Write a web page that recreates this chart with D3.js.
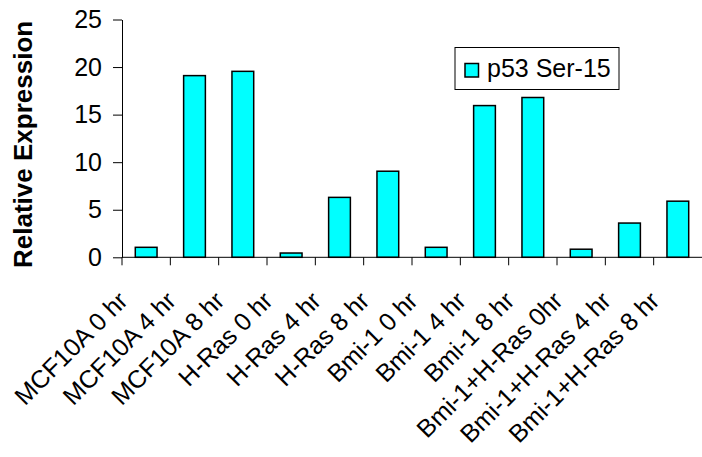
<!DOCTYPE html>
<html><head><meta charset="utf-8">
<script src="https://cdn.jsdelivr.net/npm/d3@7"></script>
<style>body{margin:0;background:#fff}svg{display:block;font-family:"Liberation Sans",Arial,sans-serif}</style>
</head><body><svg id="c" width="702" height="457"></svg>
<script>
const categories = ["MCF10A 0 hr","MCF10A 4 hr","MCF10A 8 hr","H-Ras 0 hr","H-Ras 4 hr","H-Ras 8 hr","Bmi-1 0 hr","Bmi-1 4 hr","Bmi-1 8 hr","Bmi-1+H-Ras 0hr","Bmi-1+H-Ras 4 hr","Bmi-1+H-Ras 8 hr"];
const values = [1.05,19.1,19.55,0.45,6.3,9.05,1.05,15.95,16.8,0.85,3.6,5.9];
const seriesName = "p53 Ser-15";
const yTicks = [0,5,10,15,20,25];

const svg = d3.select("#c");
const mL = 122, mR = 702, mT = 19.5, mB = 257.3;
const x = d3.scaleBand().domain(categories).range([mL,mR]).paddingInner(0.55).paddingOuter(0.275);
const xb = d3.scaleBand().domain(categories).range([mL,mR]);
const y = d3.scaleLinear().domain([0,25]).range([mB,mT]);

// y axis
const ya = svg.append("g").attr("transform",`translate(${mL},0)`)
  .call(d3.axisLeft(y).tickValues(yTicks).tickSize(9).tickPadding(11).tickSizeOuter(0));
ya.select(".domain").attr("stroke","#000");
ya.selectAll("text").attr("font-size",25).attr("fill","#000").attr("font-family","'Liberation Sans',Arial,sans-serif");

// bars
svg.append("g").selectAll("rect").data(values).join("rect")
  .attr("x",(d,i)=>x(categories[i]))
  .attr("width",x.bandwidth())
  .attr("y",d=>y(d))
  .attr("height",d=>y(0)-y(d))
  .attr("fill","#00FFFF").attr("stroke","#000").attr("stroke-width",1.5);

// x axis
const xg = svg.append("g");
xg.append("line").attr("x1",mL).attr("x2",mR).attr("y1",mB).attr("y2",mB).attr("stroke","#000");
xg.selectAll("line.t").data(categories).join("line").attr("class","t")
  .attr("x1",d=>xb(d)).attr("x2",d=>xb(d)).attr("y1",mB).attr("y2",mB+8).attr("stroke","#000");
xg.selectAll("text").data(categories).join("text")
  .attr("transform",d=>`translate(${xb(d)+xb.bandwidth()/2-17},${mB+45}) rotate(-45)`)
  .attr("text-anchor","end").attr("font-size",25).attr("fill","#000").text(d=>d);

// y title
svg.append("text").attr("transform",`translate(32,${(mT+mB)/2+6}) rotate(-90)`)
  .attr("text-anchor","middle").attr("font-size",26).attr("font-weight","bold").text("Relative Expression");

// legend
const lg = svg.append("g");
lg.append("rect").attr("x",455).attr("y",47.5).attr("width",164).attr("height",42).attr("fill","#fff").attr("stroke","#000");
lg.append("rect").attr("x",465).attr("y",63.5).attr("width",13.5).attr("height",13.5).attr("fill","#00FFFF").attr("stroke","#000").attr("stroke-width",1.5);
lg.append("text").attr("x",487).attr("y",77).attr("font-size",25).text(seriesName);
</script></body></html>
